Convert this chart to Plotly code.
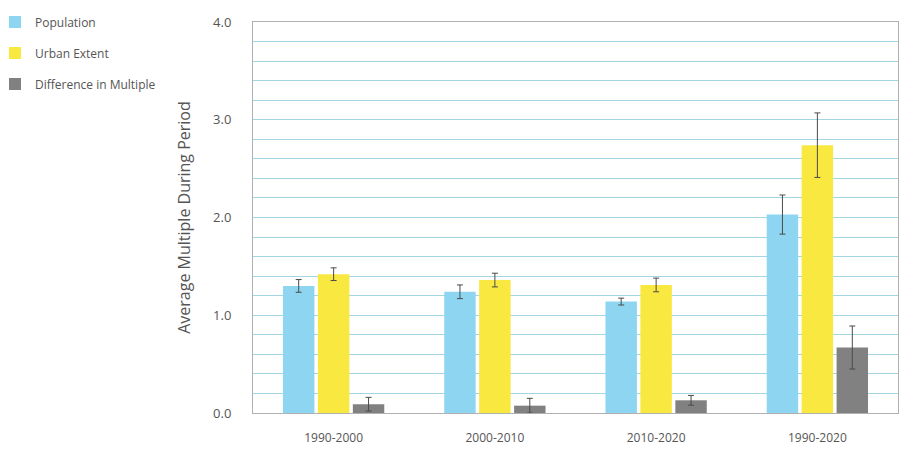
import plotly.graph_objects as go

categories = ["1990-2000", "2000-2010", "2010-2020", "1990-2020"]
population = [1.30, 1.24, 1.14, 2.03]
population_err = [0.065, 0.07, 0.035, 0.20]
urban_extent = [1.42, 1.36, 1.31, 2.74]
urban_err = [0.065, 0.07, 0.07, 0.33]
difference = [0.09, 0.075, 0.13, 0.67]
difference_err = [0.07, 0.075, 0.05, 0.22]
y_tickvals = [0, 1, 2, 3, 4]
y_ticktext = ["0.0", "1.0", "2.0", "3.0", "4.0"]

font_family = "Open Sans, Noto Sans, sans-serif"
err_style = dict(type="data", color="#4a4a4a", thickness=1, width=3)

fig = go.Figure()
for name, vals, errs, color, grp in [
    ("Population", population, population_err, "#8dd5f1", "a"),
    ("Urban Extent", urban_extent, urban_err, "#f9e83f", "b"),
    ("Difference in Multiple", difference, difference_err, "#818181", "c"),
]:
    fig.add_trace(go.Bar(
        x=categories, y=vals, name=name, legendgroup=grp,
        marker=dict(color=color, line=dict(width=0)),
        error_y=dict(array=errs, **err_style),
    ))

# the page body adds an 8px offset, so the figure is sized to compensate
fig.update_layout(
    width=902, height=447,
    margin=dict(l=245, r=12, t=14, b=42, autoexpand=False),
    paper_bgcolor="white", plot_bgcolor="white",
    barmode="group", bargap=0.35, bargroupgap=0.1,
    font=dict(family=font_family, color="#555555", size=12),
    legend=dict(x=-0.40, y=1.037, xanchor="left", yanchor="top",
                tracegroupgap=12, font=dict(size=12, color="#555555"),
                itemwidth=30),
    showlegend=True,
)
fig.update_xaxes(
    showline=True, linecolor="#b0b0b0", linewidth=1, mirror=True,
    showgrid=False, ticks="", ticklabelstandoff=14, automargin=False,
    tickfont=dict(size=12, color="#555555"),
)
fig.update_yaxes(
    range=[0, 4], tickvals=y_tickvals, ticktext=y_ticktext,
    showline=True, linecolor="#b0b0b0", linewidth=1, mirror=True,
    showgrid=True, gridcolor="#a3d6e2", gridwidth=1,
    minor=dict(dtick=0.2, showgrid=True, gridcolor="#a3d6e2", gridwidth=1),
    zeroline=False, ticks="", ticklabelstandoff=18, automargin=False,
    tickfont=dict(size=13, color="#555555"),
    title=dict(text="Average Multiple During Period", standoff=18,
               font=dict(size=16, color="#555555")),
)

fig.write_html("out.html")
